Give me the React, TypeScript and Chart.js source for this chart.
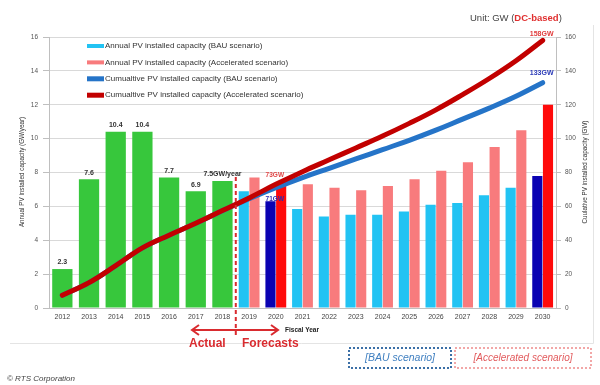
import React, { useEffect, useRef } from "react";
import { Chart, registerables } from "chart.js";

Chart.register(...registerables);

const years = ["2012", "2013", "2014", "2015", "2016", "2017", "2018", "2019", "2020", "2021", "2022", "2023", "2024", "2025", "2026", "2027", "2028", "2029", "2030"];
const actualAnnual = [2.3, 7.6, 10.4, 10.4, 7.7, 6.9, 7.5, null, null, null, null, null, null, null, null, null, null, null, null];
const actualLabels = ["2.3", "7.6", "10.4", "10.4", "7.7", "6.9", "7.5GW/year"];
const bauAnnual = [null, null, null, null, null, null, null, 6.9, 6.3, 5.85, 5.4, 5.5, 5.5, 5.7, 6.1, 6.2, 6.65, 7.1, 7.8];
const accAnnual = [null, null, null, null, null, null, null, 7.7, 7.2, 7.3, 7.1, 6.95, 7.2, 7.6, 8.1, 8.6, 9.5, 10.5, 12.0];
const bauCumulative = [7.5, 15, 25, 35.5, 43, 50, 57.5, 64.5, 71, 77, 82.5, 88, 93.5, 99, 105, 111.5, 118, 125, 133];
const accCumulative = [7.5, 15, 25, 35.5, 43, 50, 57.5, 65, 73, 80.5, 87.5, 94.5, 101.5, 109, 117, 126, 135.5, 146, 158];
const highlightYears = ["2020", "2030"];
const leftTicks = [0, 2, 4, 6, 8, 10, 12, 14, 16];
const rightTicks = [0, 20, 40, 60, 80, 100, 120, 140, 160];

const FONT = "'Liberation Sans', Arial, sans-serif";
const C_GREEN = "#37c73c";
const C_CYAN = "#22c3f3";
const C_PINK = "#f87b7d";
const C_DBLUE = "#0a02b2";
const C_RED = "#ff0a0a";
const C_LINE_RED = "#c20000";
const C_LINE_BLUE = "#2574c8";

const bauColors = years.map((y) => (highlightYears.includes(y) ? C_DBLUE : C_CYAN));
const accColors = years.map((y) => (highlightYears.includes(y) ? C_RED : C_PINK));

const legendItems = [
  { text: "Annual PV installed capacity (BAU scenario)", color: C_CYAN, h: 4 },
  { text: "Annual PV installed capacity (Accelerated scenario)", color: C_PINK, h: 4 },
  { text: "Cumualtive PV installed capacity (BAU scenario)", color: C_LINE_BLUE, h: 5 },
  { text: "Cumualtive PV installed capacity (Accelerated scenario)", color: C_LINE_RED, h: 5 },
];

const overlay = {
  id: "overlay",
  afterDraw(chart: any) {
    const ctx: CanvasRenderingContext2D = chart.ctx;
    const xs = chart.scales.x;
    const ys = chart.scales.y;
    const y2 = chart.scales.y2;
    ctx.save();

    // frame
    ctx.strokeStyle = "#e4e4e4";
    ctx.lineWidth = 1;
    ctx.beginPath();
    ctx.moveTo(10, 343.5);
    ctx.lineTo(593.5, 343.5);
    ctx.lineTo(593.5, 25);
    ctx.stroke();

    // green bar labels
    ctx.fillStyle = "#333";
    ctx.font = `bold 7px ${FONT}`;
    ctx.textAlign = "center";
    ctx.textBaseline = "bottom";
    actualLabels.forEach((t, i) => {
      const v = actualAnnual[i] as number;
      ctx.fillText(t, xs.getPixelForValue(i), ys.getPixelForValue(v) - 3);
    });

    // 2020 cumulative labels
    const i2020 = years.indexOf("2020");
    const x2020 = xs.getPixelForValue(i2020);
    ctx.font = `bold 6.5px ${FONT}`;
    ctx.fillStyle = "#e04545";
    ctx.fillText(`${accCumulative[i2020]}GW`, x2020 - 1, ys.getPixelForValue(accAnnual[i2020] as number) - 8);
    ctx.fillStyle = "#2a2ab0";
    ctx.fillText(`${bauCumulative[i2020]}GW`, x2020 - 1, ys.getPixelForValue(bauAnnual[i2020] as number) + 1);

    // 2030 cumulative labels
    const i2030 = years.length - 1;
    const x2030 = xs.getPixelForValue(i2030);
    ctx.font = `bold 7px ${FONT}`;
    ctx.fillStyle = "#e03c3c";
    ctx.fillText(`${accCumulative[i2030]}GW`, x2030 - 1, y2.getPixelForValue(accCumulative[i2030]) - 3);
    ctx.fillStyle = "#2a3ab8";
    ctx.fillText(`${bauCumulative[i2030]}GW`, x2030 - 1, y2.getPixelForValue(bauCumulative[i2030]) - 6);

    // legend
    ctx.textAlign = "left";
    ctx.textBaseline = "middle";
    ctx.font = `8px ${FONT}`;
    legendItems.forEach((it, k) => {
      const ly = 46 + k * 16.4;
      ctx.fillStyle = it.color;
      ctx.fillRect(87, ly - it.h / 2, 17, it.h);
      ctx.fillStyle = "#333";
      ctx.fillText(it.text, 105, ly);
    });

    // dashed divider
    const xd = (xs.getPixelForValue(6) + xs.getPixelForValue(7)) / 2;
    ctx.strokeStyle = "#d92b2f";
    ctx.lineWidth = 2;
    ctx.setLineDash([4, 3]);
    ctx.beginPath();
    ctx.moveTo(xd, 177);
    ctx.lineTo(xd, 338);
    ctx.stroke();
    ctx.setLineDash([]);

    // arrow
    const ay = 330;
    const ax1 = 192;
    const ax2 = 278;
    ctx.strokeStyle = "#d92b2f";
    ctx.lineWidth = 2;
    ctx.beginPath();
    ctx.moveTo(ax1, ay);
    ctx.lineTo(ax2, ay);
    ctx.moveTo(ax1 + 7, ay - 5);
    ctx.lineTo(ax1, ay);
    ctx.lineTo(ax1 + 7, ay + 5);
    ctx.moveTo(ax2 - 7, ay - 5);
    ctx.lineTo(ax2, ay);
    ctx.lineTo(ax2 - 7, ay + 5);
    ctx.stroke();

    ctx.fillStyle = "#d92b2f";
    ctx.font = `bold 12px ${FONT}`;
    ctx.textAlign = "left";
    ctx.fillText("Actual", 189, 344);
    ctx.fillText("Forecasts", 242, 344);

    ctx.fillStyle = "#222";
    ctx.font = `bold 6.5px ${FONT}`;
    ctx.fillText("Fiscal Year", 285, 330);

    // axis titles
    ctx.font = `6.3px ${FONT}`;
    ctx.fillStyle = "#333";
    ctx.textAlign = "center";
    ctx.save();
    ctx.translate(22, 172);
    ctx.rotate(-Math.PI / 2);
    ctx.fillText("Annual PV installed capacity (GW/year)", 0, 0);
    ctx.restore();
    ctx.save();
    ctx.translate(585, 172);
    ctx.rotate(-Math.PI / 2);
    ctx.fillText("Cuulative PV installed capacity (GW)", 0, 0);
    ctx.restore();

    // unit
    ctx.textAlign = "left";
    ctx.font = `9.5px ${FONT}`;
    ctx.fillStyle = "#444";
    let ux = 470;
    const p1 = "Unit: GW (";
    ctx.fillText(p1, ux, 18);
    ux += ctx.measureText(p1).width;
    ctx.font = `bold 9.5px ${FONT}`;
    ctx.fillStyle = "#e03030";
    ctx.fillText("DC-based", ux, 18);
    ux += ctx.measureText("DC-based").width;
    ctx.font = `9.5px ${FONT}`;
    ctx.fillStyle = "#444";
    ctx.fillText(")", ux, 18);

    // scenario boxes
    ctx.lineWidth = 2;
    ctx.setLineDash([2, 2]);
    ctx.strokeStyle = "#3b6fa6";
    ctx.strokeRect(349, 348, 102, 20);
    ctx.strokeStyle = "#f2a7a7";
    ctx.strokeRect(455, 348, 136, 20);
    ctx.setLineDash([]);
    ctx.textAlign = "center";
    ctx.font = `italic 10.5px ${FONT}`;
    ctx.fillStyle = "#3f7fc0";
    ctx.fillText("[BAU scenario]", 400, 358.5);
    ctx.fillStyle = "#e25a5c";
    ctx.font = `italic 10px ${FONT}`;
    ctx.fillText("[Accelerated scenario]", 523, 358.5);

    // copyright
    ctx.textAlign = "left";
    ctx.font = `italic 8px ${FONT}`;
    ctx.fillStyle = "#444";
    ctx.fillText("\u00A9 RTS Corporation", 7, 379);

    ctx.restore();
  },
};

export default function App() {
  const ref = useRef<HTMLCanvasElement>(null);
  useEffect(() => {
    if (!ref.current) return;
    const chart = new Chart(ref.current, {
      type: "bar",
      data: {
        labels: years,
        datasets: [
          {
            type: "line",
            label: "Cumualtive PV installed capacity (Accelerated scenario)",
            data: accCumulative,
            yAxisID: "y2",
            borderColor: C_LINE_RED,
            backgroundColor: C_LINE_RED,
            borderWidth: 5,
            pointRadius: 0,
            tension: 0.4,
            borderCapStyle: "round",
            order: 0,
          },
          {
            type: "line",
            label: "Cumualtive PV installed capacity (BAU scenario)",
            data: bauCumulative,
            yAxisID: "y2",
            borderColor: C_LINE_BLUE,
            backgroundColor: C_LINE_BLUE,
            borderWidth: 5,
            pointRadius: 0,
            tension: 0.4,
            borderCapStyle: "round",
            order: 1,
          },
          {
            type: "bar",
            label: "Actual",
            data: actualAnnual,
            yAxisID: "y",
            backgroundColor: C_GREEN,
            grouped: false,
            categoryPercentage: 0.8,
            barPercentage: 0.95,
            order: 4,
          },
          {
            type: "bar",
            label: "Annual PV installed capacity (BAU scenario)",
            data: bauAnnual,
            yAxisID: "y",
            backgroundColor: bauColors,
            categoryPercentage: 0.8,
            barPercentage: 0.95,
            order: 2,
          },
          {
            type: "bar",
            label: "Annual PV installed capacity (Accelerated scenario)",
            data: accAnnual,
            yAxisID: "y",
            backgroundColor: accColors,
            categoryPercentage: 0.8,
            barPercentage: 0.95,
            order: 3,
          },
        ] as any,
      },
      options: {
        responsive: false,
        animation: false,
        layout: { padding: { top: 37, left: 0, right: 0, bottom: 0 } },
        plugins: { legend: { display: false }, tooltip: { enabled: false } },
        scales: {
          x: {
            grid: { display: false, drawTicks: false },
            border: { display: true, color: "#bfbfbf" },
            ticks: { font: { family: FONT, size: 7 }, color: "#444", padding: 5, maxRotation: 0, autoSkip: false },
            afterFit: (s: any) => {
              s.height = 77;
            },
          },
          y: {
            position: "left",
            min: 0,
            max: 16,
            afterBuildTicks: (s: any) => {
              s.ticks = leftTicks.map((v) => ({ value: v }));
            },
            grid: { color: "#d9d9d9", tickColor: "#bfbfbf", tickLength: 6 },
            border: { display: true, color: "#bfbfbf" },
            ticks: { font: { family: FONT, size: 6.5 }, color: "#555", padding: 5 },
            afterFit: (s: any) => {
              s.width = 49;
            },
          },
          y2: {
            position: "right",
            min: 0,
            max: 160,
            afterBuildTicks: (s: any) => {
              s.ticks = rightTicks.map((v) => ({ value: v }));
            },
            grid: { drawOnChartArea: false, tickColor: "#bfbfbf", tickLength: 5 },
            border: { display: true, color: "#bfbfbf" },
            ticks: { font: { family: FONT, size: 6.5 }, color: "#555", padding: 4 },
            afterFit: (s: any) => {
              s.width = 44;
            },
          },
        },
      } as any,
      plugins: [overlay],
    });
    return () => chart.destroy();
  }, []);
  return (
    <div style={{ position: "absolute", left: 0, top: 0, width: 600, height: 385, background: "#fff" }}>
      <canvas ref={ref} width={600} height={385} />
    </div>
  );
}
